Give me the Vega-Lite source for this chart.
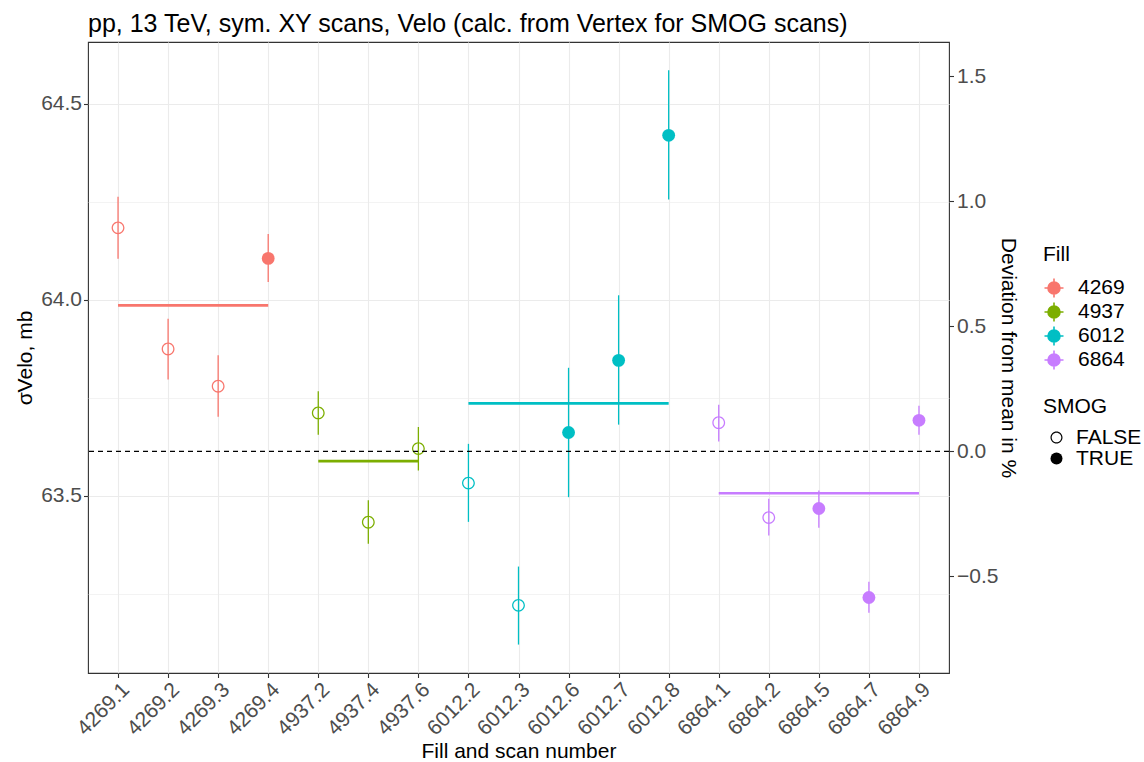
{
  "$schema": "https://vega.github.io/schema/vega-lite/v6.json",
  "width": 861,
  "height": 631,
  "autosize": {"type": "none"},
  "padding": {"left": 88, "top": 42, "right": 195, "bottom": 89},
  "background": "white",
  "title": {
    "text": "pp, 13 TeV, sym. XY scans, Velo (calc. from Vertex for SMOG scans)",
    "anchor": "start",
    "frame": "group",
    "font": "Liberation Sans",
    "fontSize": 25,
    "fontWeight": "normal",
    "color": "black",
    "offset": 5
  },
  "datasets": {
    "scans": [
      {"scan": "4269.1", "fill": "4269", "smog": "FALSE", "sigma": 64.184, "lo": 64.105, "hi": 64.263},
      {"scan": "4269.2", "fill": "4269", "smog": "FALSE", "sigma": 63.875, "lo": 63.797, "hi": 63.952},
      {"scan": "4269.3", "fill": "4269", "smog": "FALSE", "sigma": 63.780, "lo": 63.702, "hi": 63.859},
      {"scan": "4269.4", "fill": "4269", "smog": "TRUE", "sigma": 64.106, "lo": 64.046, "hi": 64.168},
      {"scan": "4937.2", "fill": "4937", "smog": "FALSE", "sigma": 63.712, "lo": 63.656, "hi": 63.767},
      {"scan": "4937.4", "fill": "4937", "smog": "FALSE", "sigma": 63.433, "lo": 63.378, "hi": 63.489},
      {"scan": "4937.6", "fill": "4937", "smog": "FALSE", "sigma": 63.621, "lo": 63.565, "hi": 63.676},
      {"scan": "6012.2", "fill": "6012", "smog": "FALSE", "sigma": 63.533, "lo": 63.434, "hi": 63.633},
      {"scan": "6012.3", "fill": "6012", "smog": "FALSE", "sigma": 63.221, "lo": 63.121, "hi": 63.320},
      {"scan": "6012.6", "fill": "6012", "smog": "TRUE", "sigma": 63.662, "lo": 63.497, "hi": 63.827},
      {"scan": "6012.7", "fill": "6012", "smog": "TRUE", "sigma": 63.846, "lo": 63.682, "hi": 64.012},
      {"scan": "6012.8", "fill": "6012", "smog": "TRUE", "sigma": 64.420, "lo": 64.256, "hi": 64.586},
      {"scan": "6864.1", "fill": "6864", "smog": "FALSE", "sigma": 63.687, "lo": 63.639, "hi": 63.733},
      {"scan": "6864.2", "fill": "6864", "smog": "FALSE", "sigma": 63.445, "lo": 63.399, "hi": 63.493},
      {"scan": "6864.5", "fill": "6864", "smog": "TRUE", "sigma": 63.468, "lo": 63.419, "hi": 63.514},
      {"scan": "6864.7", "fill": "6864", "smog": "TRUE", "sigma": 63.241, "lo": 63.202, "hi": 63.281},
      {"scan": "6864.9", "fill": "6864", "smog": "TRUE", "sigma": 63.693, "lo": 63.656, "hi": 63.730}
    ],
    "means": [
      {"fill": "4269", "start": "4269.1", "end": "4269.4", "mean": 63.986},
      {"fill": "4937", "start": "4937.2", "end": "4937.6", "mean": 63.589},
      {"fill": "6012", "start": "6012.2", "end": "6012.8", "mean": 63.736},
      {"fill": "6864", "start": "6864.1", "end": "6864.9", "mean": 63.507}
    ],
    "zero": [{"dev": 0}]
  },
  "resolve": {"scale": {"y": "independent"}, "axis": {"y": "independent"}, "legend": {"shape": "independent"}},
  "layer": [
    {
      "resolve": {"legend": {"shape": "independent"}},
      "layer": [
        {
          "data": {"name": "scans"},
          "mark": {"type": "rule", "strokeWidth": 1.3},
          "encoding": {
            "x": {
              "field": "scan", "type": "nominal", "sort": null,
              "scale": {"type": "point", "padding": 0.6, "domain": ["4269.1","4269.2","4269.3","4269.4","4937.2","4937.4","4937.6","6012.2","6012.3","6012.6","6012.7","6012.8","6864.1","6864.2","6864.5","6864.7","6864.9"]},
              "axis": {"title": "Fill and scan number", "labelAngle": -45, "labelAlign": "right", "labelBaseline": "top", "grid": true, "gridColor": "#EBEBEB", "gridWidth": 1.1, "labelPadding": 1, "titlePadding": 2}
            },
            "y": {
              "field": "lo", "type": "quantitative",
              "scale": {"domain": [63.0485, 64.658], "nice": false, "zero": false},
              "axis": {
                "title": "σVelo, mb",
                "orient": "left",
                "values": [63.25, 63.5, 63.75, 64, 64.25, 64.5],
                "labelExpr": "abs(datum.value*2 - round(datum.value*2)) < 0.001 ? format(datum.value, '.1f') : ''",
                "tickOpacity": {"condition": {"test": "abs(datum.value*2 - round(datum.value*2)) < 0.001", "value": 1}, "value": 0},
                "gridWidth": {"condition": {"test": "abs(datum.value*2 - round(datum.value*2)) < 0.001", "value": 1.1}, "value": 0.6},
                "grid": true,
                "gridColor": "#EBEBEB",
                "labelPadding": 2,
                "titlePadding": 5
              }
            },
            "y2": {"field": "hi"},
            "stroke": {
              "field": "fill", "type": "nominal",
              "scale": {"domain": ["4269", "4937", "6012", "6864"], "range": ["#F8766D", "#7CAE00", "#00BFC4", "#C77CFF"]}
            }
          }
        },
        {
          "data": {"name": "means"},
          "mark": {"type": "rule", "strokeWidth": 2.7},
          "encoding": {
            "x": {"field": "start", "type": "nominal", "sort": null},
            "x2": {"field": "end"},
            "y": {"field": "mean", "type": "quantitative"},
            "stroke": {"field": "fill", "type": "nominal"}
          }
        },
        {
          "data": {"name": "scans"},
          "mark": {"type": "point", "filled": true, "size": 165, "opacity": 1},
          "encoding": {
            "x": {"field": "scan", "type": "nominal", "sort": null},
            "y": {"field": "sigma", "type": "quantitative"},
            "fill": {
              "field": "fill", "type": "nominal",
              "scale": {"domain": ["4269", "4937", "6012", "6864"], "range": ["#F8766D", "#7CAE00", "#00BFC4", "#C77CFF"]},
              "legend": {"title": "Fill", "orient": "none", "legendX": 955, "legendY": 202, "symbolType": "M-0.95,0L0.95,0M0,-0.95L0,0.95M0.6,0A0.6,0.6,0,1,1,-0.6,0A0.6,0.6,0,1,1,0.6,0Z", "symbolSize": 400, "symbolStrokeWidth": 1.6, "labelOffset": 13, "rowPadding": -8, "titlePadding": 12}
            },
            "shape": {
              "field": "smog", "type": "nominal",
              "scale": {"domain": ["FALSE", "TRUE"], "range": ["M1,0A1,1,0,1,1,-1,0A1,1,0,1,1,1,0ZM0.8,0A0.8,0.8,0,1,0,-0.8,0A0.8,0.8,0,1,0,0.8,0Z", "circle"]},
              "legend": {"title": "SMOG", "orient": "none", "legendX": 955, "legendY": 354, "symbolSize": 144, "symbolOffset": 3, "symbolFillColor": "black", "symbolStrokeColor": "black", "symbolStrokeWidth": 0, "labelOffset": 9, "rowPadding": -5, "titlePadding": 10}
            }
          }
        }
      ]
    },
    {
      "data": {"name": "zero"},
      "mark": {"type": "rule", "stroke": "black", "strokeWidth": 1.1, "strokeDash": [5, 4]},
      "encoding": {
        "y": {
          "field": "dev", "type": "quantitative",
          "scale": {"domain": [-0.886, 1.637], "nice": false, "zero": false},
          "axis": {"orient": "right", "title": "Deviation from mean in %", "titleAngle": 90, "values": [-0.5, 0, 0.5, 1, 1.5], "format": ".1f", "grid": false, "labelPadding": 3, "titlePadding": 0}
        }
      }
    }
  ],
  "config": {
    "font": "Liberation Sans",
    "view": {"stroke": "#333333", "strokeWidth": 1.1},
    "axis": {
      "labelFont": "Liberation Sans",
      "labelFontSize": 21,
      "labelColor": "#4D4D4D",
      "titleFont": "Liberation Sans",
      "titleFontSize": 21,
      "titleFontWeight": "normal",
      "titleColor": "black",
      "tickColor": "#333333",
      "tickSize": 4.5,
      "tickWidth": 1.1,
      "domain": false
    },
    "legend": {
      "titleFont": "Liberation Sans",
      "titleFontSize": 21,
      "titleFontWeight": "normal",
      "titleColor": "black",
      "labelFont": "Liberation Sans",
      "labelFontSize": 21,
      "labelColor": "black",
      "padding": 0
    }
  }
}
